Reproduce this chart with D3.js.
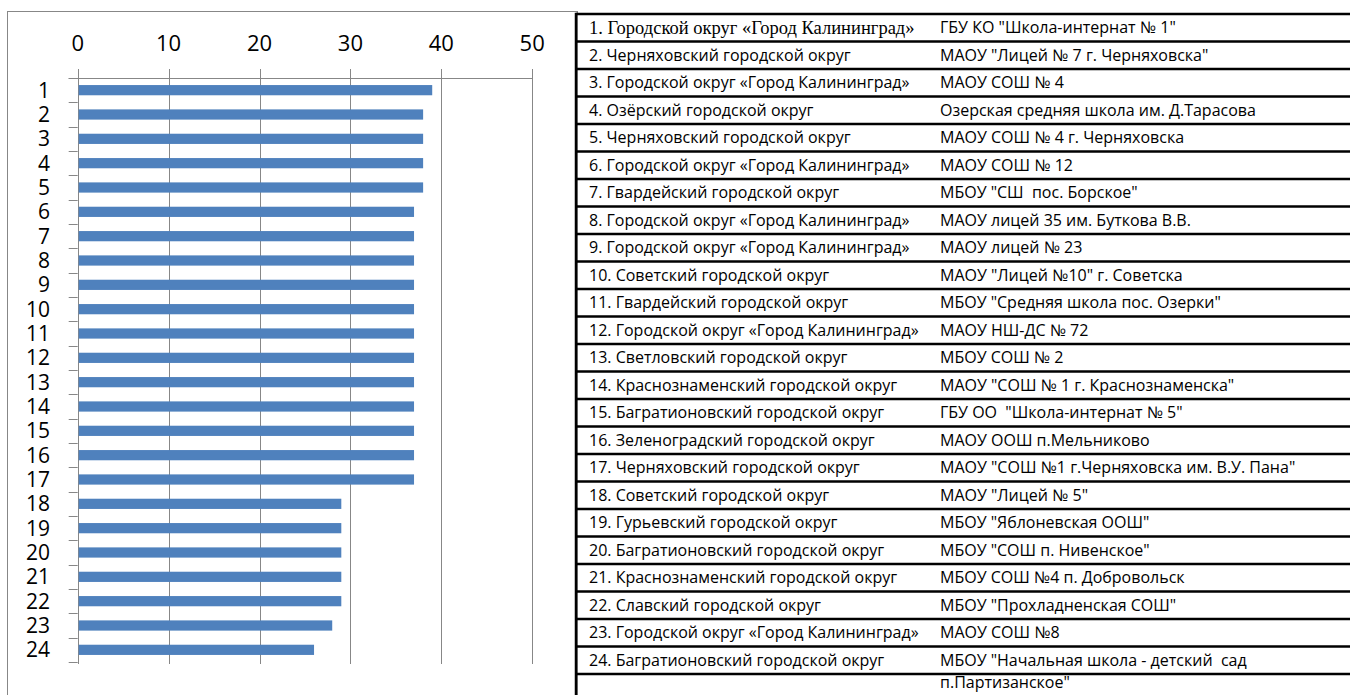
<!DOCTYPE html>
<html>
<head>
<meta charset="utf-8">
<script src="https://cdn.jsdelivr.net/npm/d3@7"></script>
<style>
  body { margin: 0; background: #fff; }
  svg { display: block; }
</style>
</head>
<body>
<div id="chart"></div>
<script>
// bar values, top to bottom
const categories = d3.range(1, 25).map(String);
const values = [39, 38, 38, 38, 38, 37, 37, 37, 37, 37, 37, 37, 37, 37, 37, 37, 37, 29, 29, 29, 29, 29, 28, 26];
const xTicks = [0, 10, 20, 30, 40, 50];

// table: district and school for each number
const districts = [
    "Городской округ «Город Калининград»",
    "Черняховский городской округ",
    "Городской округ «Город Калининград»",
    "Озёрский городской округ",
    "Черняховский городской округ",
    "Городской округ «Город Калининград»",
    "Гвардейский городской округ",
    "Городской округ «Город Калининград»",
    "Городской округ «Город Калининград»",
    "Советский городской округ",
    "Гвардейский городской округ",
    "Городской округ «Город Калининград»",
    "Светловский городской округ",
    "Краснознаменский городской округ",
    "Багратионовский городской округ",
    "Зеленоградский городской округ",
    "Черняховский городской округ",
    "Советский городской округ",
    "Гурьевский городской округ",
    "Багратионовский городской округ",
    "Краснознаменский городской округ",
    "Славский городской округ",
    "Городской округ «Город Калининград»",
    "Багратионовский городской округ"
];
const schools = [
    "ГБУ КО \"Школа-интернат № 1\"",
    "МАОУ \"Лицей № 7 г. Черняховска\"",
    "МАОУ СОШ № 4",
    "Озерская средняя школа им. Д.Тарасова",
    "МАОУ СОШ № 4 г. Черняховска",
    "МАОУ СОШ № 12",
    "МБОУ \"СШ  пос. Борское\"",
    "МАОУ лицей 35 им. Буткова В.В.",
    "МАОУ лицей № 23",
    "МАОУ \"Лицей №10\" г. Советска",
    "МБОУ \"Средняя школа пос. Озерки\"",
    "МАОУ НШ-ДС № 72",
    "МБОУ СОШ № 2",
    "МАОУ \"СОШ № 1 г. Краснознаменска\"",
    "ГБУ ОО  \"Школа-интернат № 5\"",
    "МАОУ ООШ п.Мельниково",
    "МАОУ \"СОШ №1 г.Черняховска им. В.У. Пана\"",
    "МАОУ \"Лицей № 5\"",
    "МБОУ \"Яблоневская ООШ\"",
    "МБОУ \"СОШ п. Нивенское\"",
    "МБОУ СОШ №4 п. Добровольск",
    "МБОУ \"Прохладненская СОШ\"",
    "МАОУ СОШ №8",
    "МБОУ \"Начальная школа - детский  сад\nп.Партизанское\""
];

const W = 1350, H = 695;
const svg = d3.select("#chart").append("svg")
    .attr("width", W)
    .attr("height", H);

// ---- chart ----
const plot = { left: 77.7, right: 532.2, top: 78, bottom: 662 };
const gridColor = "#878787";
const labelFont = "'Open Sans', sans-serif";

// chart frame
svg.append("rect")
    .attr("x", 7.5).attr("y", 11.5)
    .attr("width", 570).attr("height", 700)
    .attr("fill", "none")
    .attr("stroke", gridColor)
    .attr("stroke-width", 1);

const x = d3.scaleLinear().domain([0, 50]).range([plot.left, plot.right]);
const y = d3.scaleBand()
    .domain(categories)
    .range([plot.top, plot.bottom])
    .paddingInner(0.58)
    .paddingOuter(0.29);
const yEdge = d3.scaleLinear().domain([0, categories.length]).range([plot.top, plot.bottom]);

// vertical gridlines with top ticks
svg.append("g")
    .selectAll("line")
    .data(xTicks)
    .join("line")
    .attr("x1", d => Math.round(x(d)) + 0.5)
    .attr("x2", d => Math.round(x(d)) + 0.5)
    .attr("y1", plot.top - 9)
    .attr("y2", plot.bottom + 2)
    .attr("stroke", gridColor)
    .attr("stroke-width", 1);

// top axis line
svg.append("line")
    .attr("x1", plot.left - 9).attr("x2", plot.right)
    .attr("y1", plot.top + 0.5).attr("y2", plot.top + 0.5)
    .attr("stroke", gridColor);

// category ticks on left axis
svg.append("g")
    .selectAll("line")
    .data(d3.range(categories.length + 1))
    .join("line")
    .attr("x1", plot.left - 9).attr("x2", plot.left)
    .attr("y1", d => Math.round(yEdge(d)) + 0.5)
    .attr("y2", d => Math.round(yEdge(d)) + 0.5)
    .attr("stroke", gridColor);

// x tick labels
svg.append("g")
    .selectAll("text")
    .data(xTicks)
    .join("text")
    .attr("x", d => x(d))
    .attr("y", 43)
    .attr("dy", "0.35em")
    .attr("text-anchor", "middle")
    .style("font-family", labelFont)
    .style("font-size", "22px")
    .style("fill", "#000")
    .text(d => d);

// bars
svg.append("g")
    .selectAll("rect")
    .data(values)
    .join("rect")
    .attr("x", x(0) + 1)
    .attr("y", (d, i) => y(categories[i]))
    .attr("width", d => x(d) - x(0) - 1)
    .attr("height", y.bandwidth())
    .attr("fill", "#4F81BD");

// category labels
svg.append("g")
    .selectAll("text")
    .data(categories)
    .join("text")
    .attr("x", 50)
    .attr("y", d => y(d) + y.bandwidth() / 2)
    .attr("dy", "0.35em")
    .attr("text-anchor", "end")
    .style("font-family", labelFont)
    .style("font-size", "21px")
    .style("fill", "#000")
    .text(d => d);

// ---- table ----
const tbl = { left: 576, top: 14, rowH: 27.5, col1: 589, col2: 940 };
const tableFont = "'Open Sans', sans-serif";

const rows = svg.append("g").attr("class", "table");

// horizontal rules
rows.selectAll("line.rule")
    .data(d3.range(districts.length + 1))
    .join("line")
    .attr("class", "rule")
    .attr("x1", tbl.left).attr("x2", W)
    .attr("y1", d => tbl.top + d * tbl.rowH)
    .attr("y2", d => tbl.top + d * tbl.rowH)
    .attr("stroke", "#000")
    .attr("stroke-width", 2.5);

// left border
rows.append("line")
    .attr("x1", tbl.left).attr("x2", tbl.left)
    .attr("y1", tbl.top - 1.2).attr("y2", H)
    .attr("stroke", "#000")
    .attr("stroke-width", 2.5);

const rowMid = i => tbl.top + i * tbl.rowH + tbl.rowH / 2;

rows.selectAll("text.district")
    .data(districts)
    .join("text")
    .attr("class", "district")
    .attr("x", tbl.col1)
    .attr("y", (d, i) => rowMid(i))
    .attr("dy", "0.35em")
    .style("font-family", (d, i) => i === 0 ? "'Liberation Serif', serif" : tableFont)
    .style("font-size", (d, i) => i === 0 ? "18.5px" : "16px")
    .style("fill", "#000")
    .text((d, i) => `${i + 1}. ${d}`);

rows.selectAll("text.school")
    .data(schools)
    .join("text")
    .attr("class", "school")
    .attr("x", tbl.col2)
    .attr("y", (d, i) => rowMid(i))
    .attr("xml:space", "preserve")
    .style("white-space", "pre")
    .style("font-family", tableFont)
    .style("font-size", "16px")
    .style("fill", "#000")
    .each(function (d) {
        const lines = d.split("\n");
        d3.select(this).selectAll("tspan")
            .data(lines)
            .join("tspan")
            .attr("x", tbl.col2)
            .attr("dy", (l, j) => j === 0 ? "0.35em" : "22px")
            .text(l => l);
    });
</script>
</body>
</html>
